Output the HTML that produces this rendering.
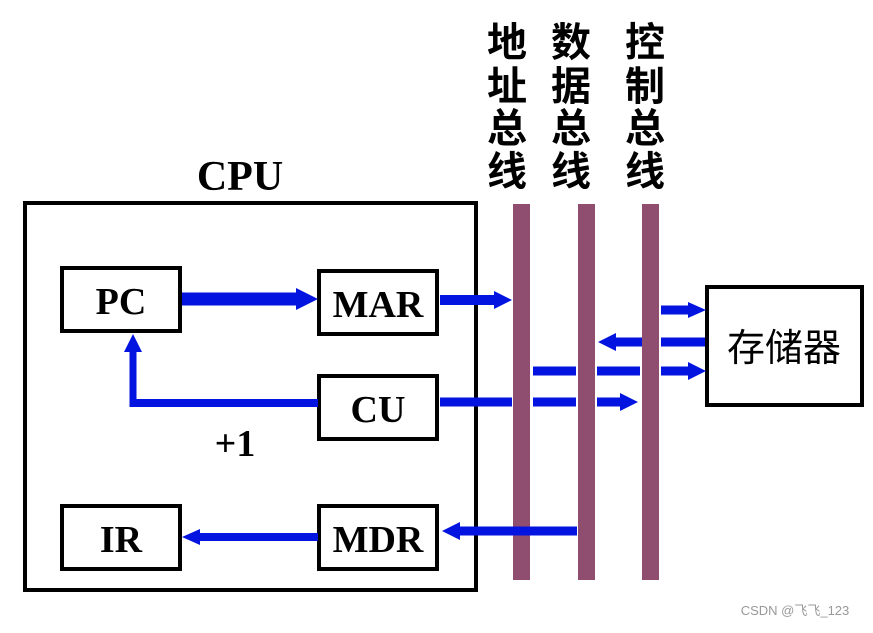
<!DOCTYPE html>
<html><head><meta charset="utf-8"><style>
body{margin:0;background:#fff}
</style></head><body>
<svg width="873" height="628" viewBox="0 0 873 628" xmlns="http://www.w3.org/2000/svg">
<defs>
<marker id="a" markerWidth="4" markerHeight="4" refX="3" refY="2" orient="auto" markerUnits="strokeWidth"><path d="M0,0L4,2L0,4Z" fill="#0313e0"/></marker>
</defs>
<g font-family="Liberation Serif, serif" font-weight="bold" text-anchor="middle">
<text x="240" y="190" font-size="42">CPU</text>
</g>
<rect x="25" y="203" width="451" height="387" fill="none" stroke="#000" stroke-width="4"/>
<g fill="#8f4d6f">
<rect x="513" y="204" width="17" height="376"/>
<rect x="578" y="204" width="17" height="376"/>
<rect x="642" y="204" width="17" height="376"/>
</g>
<g fill="#fff" stroke="#000" stroke-width="4">
<rect x="62" y="268" width="118" height="63"/>
<rect x="319" y="271" width="118" height="63"/>
<rect x="319" y="376" width="118" height="63"/>
<rect x="62" y="506" width="118" height="63"/>
<rect x="319" y="506" width="118" height="63"/>
<rect x="707" y="287" width="155" height="118"/>
</g>
<g font-family="Liberation Serif, serif" font-weight="bold" text-anchor="middle" font-size="38">
<text x="121" y="314">PC</text>
<text x="378" y="317">MAR</text>
<text x="378" y="422">CU</text>
<text x="121" y="552">IR</text>
<text x="378" y="552">MDR</text>
<text x="235" y="456">+1</text>
</g>
<text x="784" y="361" font-family="Noto Sans CJK SC, sans-serif" font-size="38" text-anchor="middle">存储器</text>
<g font-family="Noto Sans CJK SC, sans-serif" font-size="40" text-anchor="middle" font-weight="bold">
<text x="507" y="56">地</text><text x="507" y="100">址</text><text x="507" y="142">总</text><text x="507" y="185">线</text>
<text x="571" y="56">数</text><text x="571" y="100">据</text><text x="571" y="142">总</text><text x="571" y="185">线</text>
<text x="645" y="56">控</text><text x="645" y="100">制</text><text x="645" y="142">总</text><text x="645" y="185">线</text>
</g>
<g stroke="#0313e0" fill="#0313e0">
<line x1="182" y1="299" x2="298" y2="299" stroke-width="13"/>
<path d="M296,288L318,299L296,310Z" stroke="none"/>
<line x1="440" y1="300" x2="496" y2="300" stroke-width="10"/>
<path d="M494,291L512,300L494,309Z" stroke="none"/>
<line x1="661" y1="310" x2="690" y2="310" stroke-width="9"/>
<path d="M688,302L706,310L688,318Z" stroke="none"/>
<line x1="661" y1="342" x2="705" y2="342" stroke-width="9"/>
<line x1="614" y1="342" x2="642" y2="342" stroke-width="9"/>
<path d="M616,333L598,342L616,351Z" stroke="none"/>
<line x1="533" y1="371" x2="576" y2="371" stroke-width="9"/>
<line x1="597" y1="371" x2="640" y2="371" stroke-width="9"/>
<line x1="661" y1="371" x2="690" y2="371" stroke-width="9"/>
<path d="M688,362L706,371L688,380Z" stroke="none"/>
<line x1="440" y1="402" x2="512" y2="402" stroke-width="9"/>
<line x1="533" y1="402" x2="576" y2="402" stroke-width="9"/>
<line x1="597" y1="402" x2="622" y2="402" stroke-width="9"/>
<path d="M620,393L638,402L620,411Z" stroke="none"/>
<line x1="318" y1="403" x2="133" y2="403" stroke-width="8"/>
<line x1="133" y1="407" x2="133" y2="350" stroke-width="7"/>
<path d="M124,352L133,334L142,352Z" stroke="none"/>
<line x1="577" y1="531" x2="458" y2="531" stroke-width="9"/>
<path d="M460,522L442,531L460,540Z" stroke="none"/>
<line x1="318" y1="537" x2="198" y2="537" stroke-width="8"/>
<path d="M200,529L182,537L200,545Z" stroke="none"/>
</g>
<text x="795" y="615" font-family="Liberation Sans, Noto Sans CJK SC, sans-serif" font-size="13" fill="#999" text-anchor="middle">CSDN @飞飞_123</text>
</svg>
</body></html>
